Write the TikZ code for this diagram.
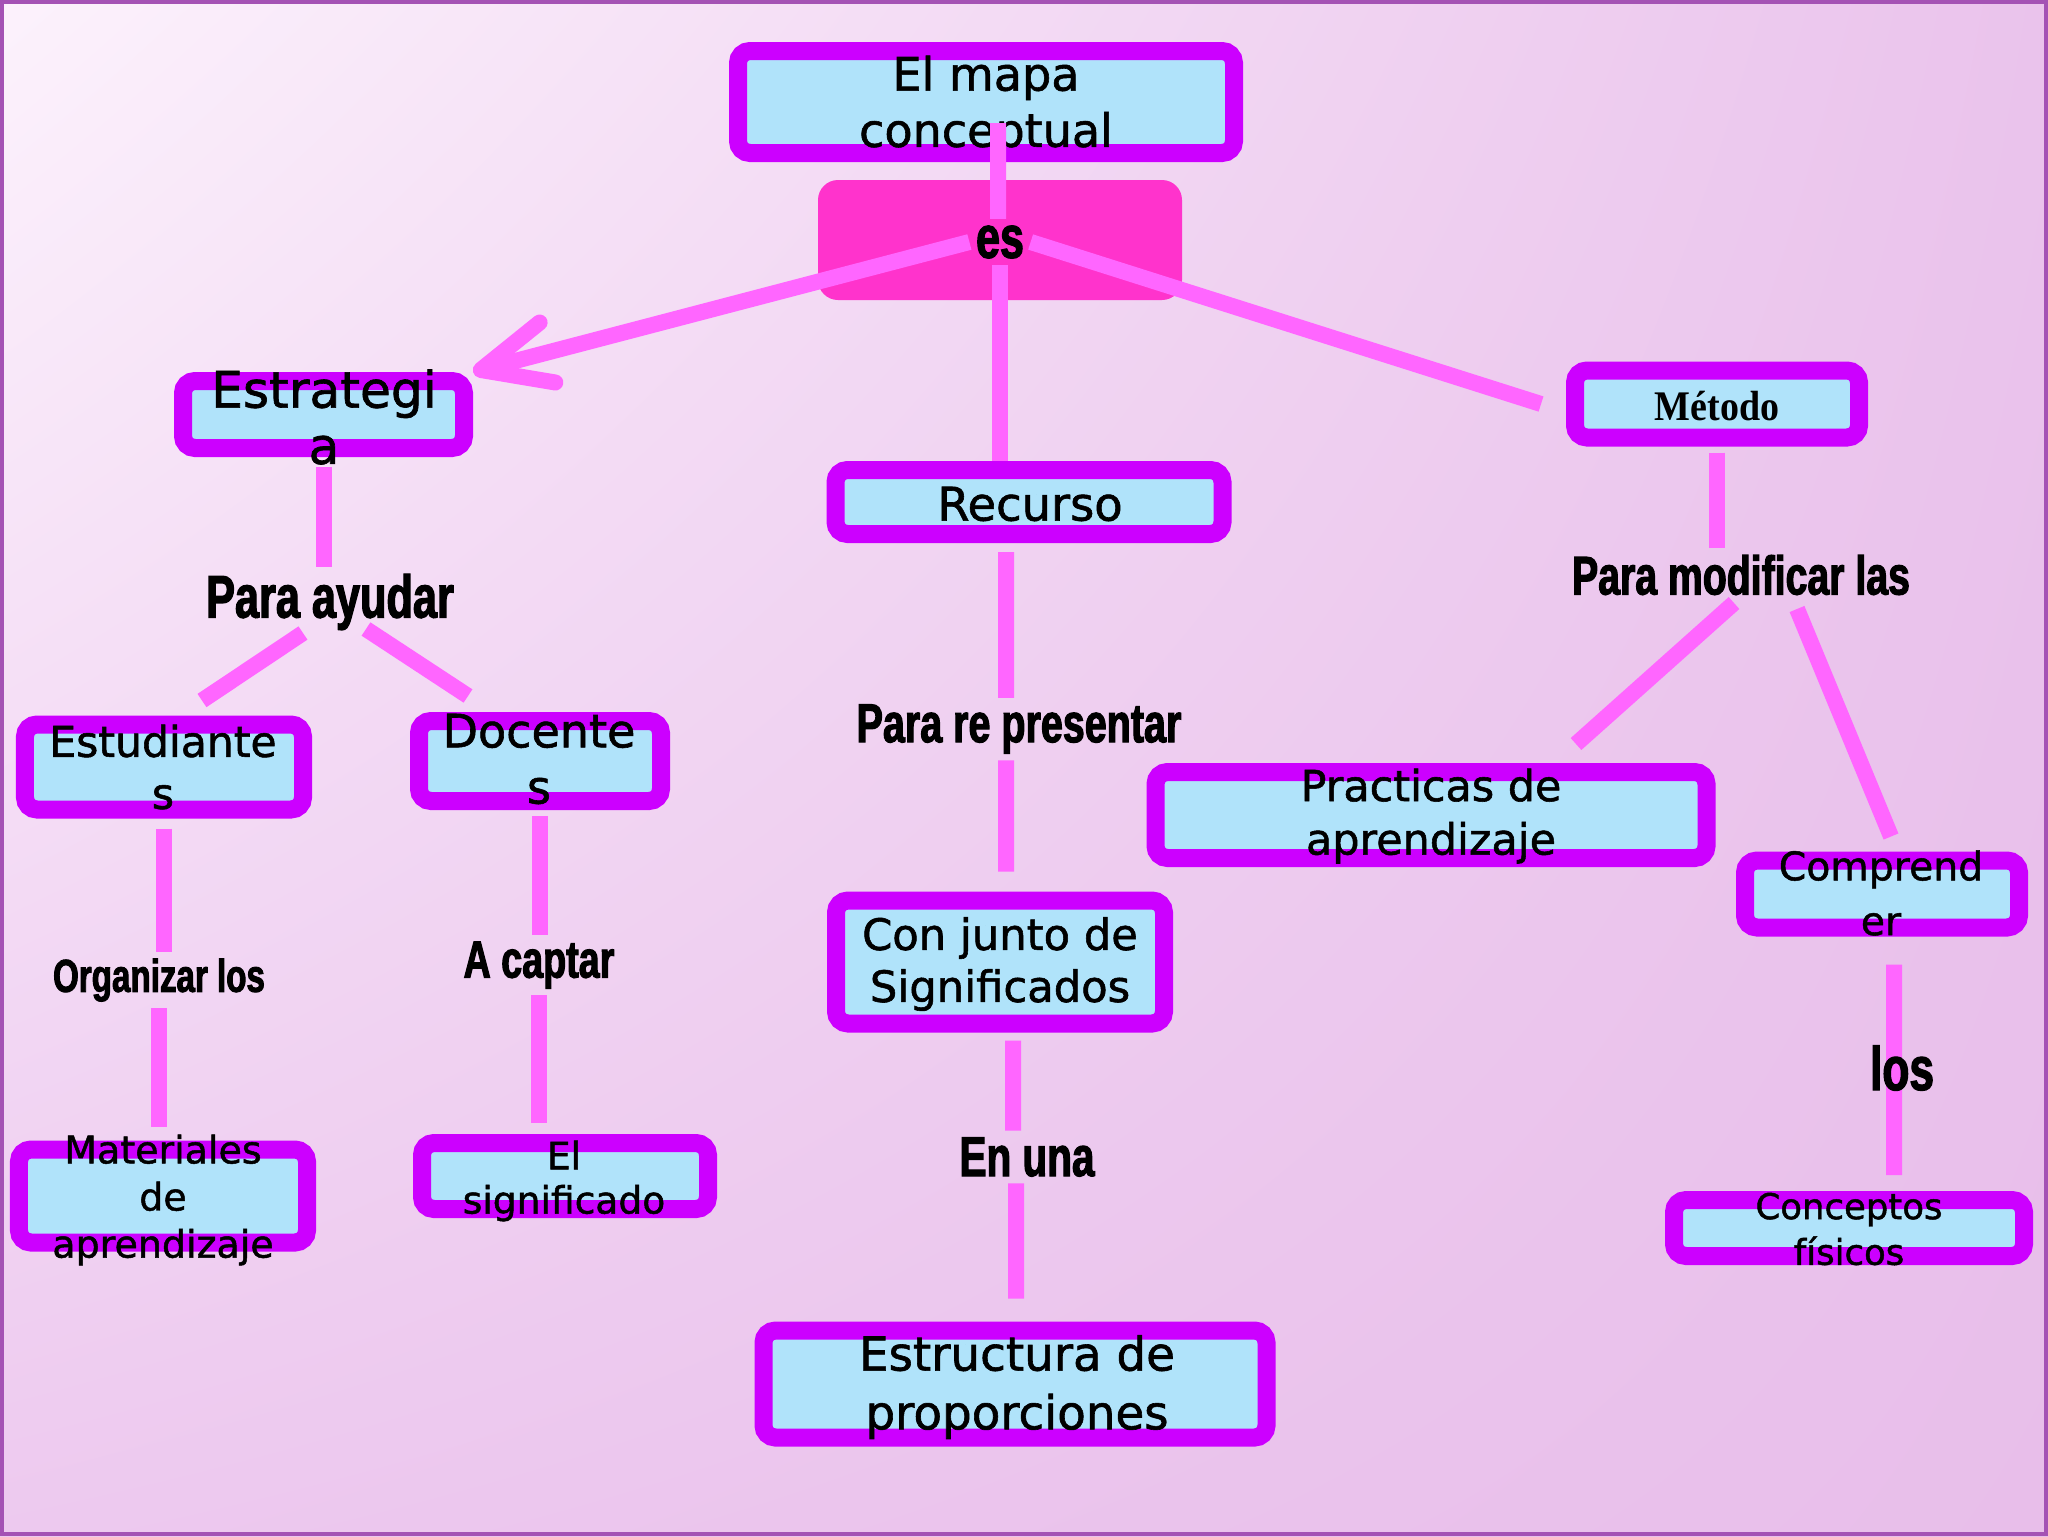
\documentclass[tikz,border=0pt]{standalone}
\usepackage{fontspec}
\setmainfont{DejaVu Sans}[FakeBold=1.3]
\newfontfamily\lnkfont[FakeStretch=0.72,FakeBold=2]{Liberation Sans Bold}
\newfontfamily\metfont[FakeStretch=0.9]{Liberation Serif Bold}
\usetikzlibrary{arrows.meta,calc,shadings}
\definecolor{cBord}{HTML}{CC00FF}
\definecolor{cFill}{HTML}{B0E3FA}
\definecolor{cLink}{HTML}{FF66FF}
\definecolor{cEs}  {HTML}{FF33CC}
\definecolor{cFrame}{HTML}{A452B4}
\definecolor{cBgUL}{HTML}{FCF2FC}
\definecolor{cBgUR}{HTML}{EAC3EC}
\definecolor{cBgLL}{HTML}{EDC9EF}
\definecolor{cBgLR}{HTML}{E8BEEA}
\newcommand{\fs}[2]{\fontsize{#1}{#2}\selectfont}
\tikzset{
  cpt/.style   ={draw=cBord,fill=cFill,line width=1.8mm,rounded corners=1.2mm,inner sep=0pt},
  ctxt/.style 2 args={align=center,inner sep=0pt,text=black,font=\fs{#1}{#2}},
  lbl/.style   ={font=\lnkfont\fs{#1}{#1},inner sep=0.6mm,text=black},
  lbl/.default =16,
  lnk/.style   ={draw=cLink,line width=1.6mm},
}

\begin{document}
\begin{tikzpicture}[x=1mm,y=1mm]
\useasboundingbox (0,0) rectangle (204.8,-153.6);
\shade[upper left=cBgUL,upper right=cBgUR,lower left=cBgLL,lower right=cBgLR]
  (0,0) rectangle (204.8,-153.6);
\draw[cFrame,line width=0.4mm] (0.2,-0.2) rectangle (204.6,-153.4);

% concept boxes
\node[fill=cEs,rounded corners=2mm,minimum width=36.4mm,minimum height=12mm,inner sep=0pt]
  (esbox) at (100,-24) {};
\foreach \n/\x/\y/\w/\h in {mapa/98.6/-10.2/49.6/10.2, estr/32.35/-41.45/28.1/6.7,
    est/16.4/-76.7/27.8/8.5, doc/54.0/-76.1/24.2/8.0, mat/16.3/-119.6/28.8/9.3,
    sig/56.5/-117.6/28.6/6.6, rec/102.9/-50.2/38.7/6.4, con/100.0/-96.2/32.8/12.3,
    estru/101.5/-138.4/50.3/10.7, met/171.7/-40.4/28.4/6.7, prac/143.1/-81.5/55.1/8.6,
    comp/188.2/-89.4/27.4/6.7, conc/184.9/-122.8/35.0/5.6}{
  \node[cpt,minimum width=\w mm,minimum height=\h mm] (\n) at (\x,\y) {};
}

% concept texts
\node[ctxt={13.1}{16}]   (mapa-t)  at (98.6,-10.6)  {El mapa\\conceptual};
\node[ctxt={14.3}{16}]   (estr-t)  at (32.4,-41.7)  {Estrategi\\a};
\node[ctxt={12.1}{14.8}] (est-t)   at (16.3,-76.7)  {Estudiante\\s};
\node[ctxt={13.1}{16}]   (doc-t)   at (53.9,-75.9)  {Docente\\s};
\node[ctxt={10.8}{13.4}] (mat-t)   at (16.3,-120.0) {Materiales\\de\\aprendizaje};
\node[ctxt={10.7}{12.6}] (sig-t)   at (56.4,-118.1) {El\\significado};
\node[ctxt={13.2}{16}]   (rec-t)   at (103.0,-50.4) {Recurso};
\node[ctxt={12.3}{14.8}] (con-t)   at (100.0,-96.4) {Con junto de\\Significados};
\node[ctxt={13.3}{16.7}] (estru-t) at (101.7,-138.7) {Estructura de\\proporciones};
\node[ctxt={12}{14},font=\metfont\fs{12}{14}] (met-t) at (171.7,-40.6) {Método};
\node[ctxt={12.2}{15.2}] (prac-t)  at (143.1,-81.6) {Practicas de\\aprendizaje};
\node[ctxt={11.2}{15.6}] (comp-t)  at (188.1,-89.3) {Comprend\\er};
\node[ctxt={10.1}{13}]   (conc-t)  at (184.9,-122.9) {Conceptos\\físicos};

% linking words
\node[lbl=17]   (es-t)   at (100,-24.2)   {es};
\node[lbl=17.1] (ayudar) at (33.0,-60.2)  {Para ayudar};
\node[lbl=13.1] (org)    at (15.9,-98.0)  {Organizar los};
\node[lbl=14.9] (cap)    at (53.9,-96.5)  {A captar};
\node[lbl=15.6] (pres)   at (101.9,-72.9) {Para re presentar};
\node[lbl=16]   (una)    at (102.7,-115.7) {En una};
\node[lbl=15.5] (modif)  at (174.1,-57.5) {Para modificar las};

% connectors
\draw[lnk,-{Straight Barb[length=6.9mm,width=6.2mm,round]}] (es-t.west) -- (estr.north east);
\draw[lnk] (es-t.east) -- ([xshift=-2.5mm]met.west);
\draw[lnk] (es-t.south) -- (es-t.south |- rec.north);

\draw[lnk,shorten <=1mm] (estr.south) -- (estr.south |- ayudar.north);
\draw[lnk] ($(ayudar)+(-2.7,-3.1)$) -- ($(est.north)+(3.8,1.5)$);
\draw[lnk] ($(ayudar)+(3.6,-2.7)$) -- ($(doc.north)+(-7.2,1.6)$);

\draw[lnk,shorten <=1mm] (est.south) -- (est.south |- org.north);
\draw[lnk,shorten >=1.4mm] (org.south) -- (org.south |- mat.north);
\draw[lnk,shorten <=0.6mm] (doc.south) -- (doc.south |- cap.north);
\draw[lnk,shorten >=1.1mm] (cap.south) -- (cap.south |- sig.north);

\draw[lnk,shorten <=0.9mm] ([xshift=-2.3mm]rec.south) -- ([xshift=-1.3mm]pres.north);
\draw[lnk,shorten >=2mm] ([xshift=-1.3mm]pres.south) -- ([xshift=0.6mm]con.north);
\draw[lnk,shorten <=0.8mm] ([xshift=1.3mm]con.south) -- ([xshift=-1.4mm]una.north);
\draw[lnk,shorten >=2.3mm] ([xshift=-1.1mm]una.south) -- ([xshift=0.1mm]estru.north);

\draw[lnk,shorten <=0.6mm] (met.south) -- ([xshift=-2.4mm]modif.north);
\draw[lnk] ($(modif)+(-0.7,-2.8)$) -- ($(prac.north)+(14.5,1.9)$);
\draw[lnk] ($(modif)+(5.6,-3.4)$) -- ($(comp.north)+(0.9,1.5)$);
\draw[lnk] ([xshift=1.2mm,yshift=-2.8mm]comp.south) -- ([xshift=4.5mm,yshift=1.6mm]conc.north);
\node[lbl=17.5] (los) at (190.2,-106.8) {los};

% title stem, drawn over the title text
\draw[lnk] ([xshift=1.2mm,yshift=-2.1mm]mapa.center) -- ([xshift=-0.2mm]es-t.north);
\end{tikzpicture}
\end{document}
